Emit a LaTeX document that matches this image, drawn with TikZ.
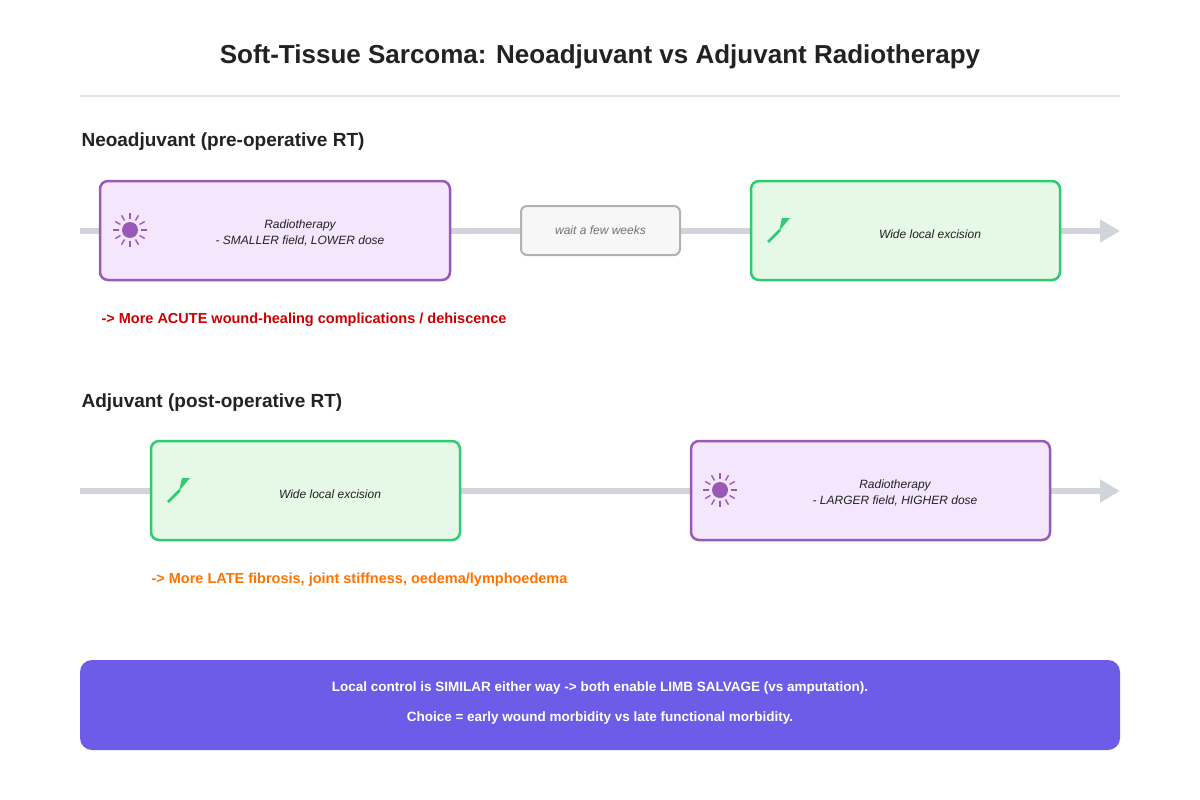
\documentclass[tikz,border=0pt]{standalone}
\usepackage{fontspec}
\setmainfont{Liberation Sans}
\usetikzlibrary{arrows.meta}
\definecolor{purp}{HTML}{9B59B6}
\definecolor{purpf}{HTML}{F3E6FD}
\definecolor{grn}{HTML}{2ECC71}
\definecolor{grnf}{HTML}{E6F8E6}
\definecolor{trk}{HTML}{D1D5DB}
\definecolor{txt}{HTML}{222222}
\definecolor{banner}{HTML}{6C5CE7}
\tikzset{
  x=1pt,y=-1pt,
  track/.style={trk,line width=6pt,-{Triangle[length=20pt,width=22pt]}},
  rt/.style={draw=purp,fill=purpf,line width=2.5pt,rounded corners=8pt},
  ex/.style={draw=grn,fill=grnf,line width=2.5pt,rounded corners=8pt},
  wait/.style={draw=gray!60,fill=gray!6,line width=2pt,rounded corners=6pt},
  lbl/.style={font=\fontsize{12}{16}\selectfont\itshape,text=txt,align=center},
  head/.style={font=\fontsize{19}{22}\selectfont\bfseries,text=txt,anchor=west},
}
\newcommand{\sunicon}[1]{%
  \fill[purp] (#1) circle (8);
  \foreach \a in {0,30,...,330}{\draw[purp,line width=1.4pt] ($(#1)+(\a:11)$) -- ($(#1)+(\a:17)$);}}
\newcommand{\scalpicon}[1]{%
  \draw[grn,line width=2.5pt] ($(#1)+(-12,12)$) -- ($(#1)+(0,0)$);
  \fill[grn] ($(#1)+(-1,1)$) -- ($(#1)+(10,-12)$) -- ($(#1)+(2,-12)$) -- cycle;}
\usetikzlibrary{calc}
\begin{document}
\begin{tikzpicture}
\useasboundingbox (0,0) rectangle (1200,800);
\fill[white] (0,0) rectangle (1200,800);
\node[font=\fontsize{26}{30}\selectfont\bfseries,text=txt] (title) at (600,57) {Soft-Tissue Sarcoma: Neoadjuvant vs Adjuvant Radiotherapy};
\draw[gray!20,line width=1.5pt] (80,96) -- (1120,96);
\node[head] (h1) at (78,142) {Neoadjuvant (pre-operative RT)};
\coordinate (s1) at (80,231); \coordinate (e1) at (1120,231);
\draw[track] (s1) -- (e1);
\node[rt,minimum width=350pt,minimum height=99pt] (rt1) at (275,230.5) {};
\node[lbl] at (300,233) {Radiotherapy\\- SMALLER field, LOWER dose};
\sunicon{130,230}
\node[wait,minimum width=159pt,minimum height=49pt,font=\fontsize{12}{14}\selectfont\itshape,text=gray!90!black] (w) at (600.5,230.5) {wait a few weeks};
\node[ex,minimum width=309pt,minimum height=99pt] (ex1) at (905.5,230.5) {};
\node[lbl] at (930,234) {Wide local excision};
\scalpicon{780,230}
\node[font=\fontsize{14.5}{18}\selectfont\bfseries,text=red!80!black,anchor=west] (n1) at (98,320) {-> More ACUTE wound-healing complications / dehiscence};
\node[head] (h2) at (78,403) {Adjuvant (post-operative RT)};
\coordinate (s2) at (80,491); \coordinate (e2) at (1120,491);
\draw[track] (s2) -- (e2);
\node[ex,minimum width=309pt,minimum height=99pt] (ex2) at (305.5,490.5) {};
\node[lbl] at (330,494) {Wide local excision};
\scalpicon{180,490}
\node[rt,minimum width=359pt,minimum height=99pt] (rt2) at (870.5,490.5) {};
\node[lbl] at (895,493) {Radiotherapy\\- LARGER field, HIGHER dose};
\sunicon{720,490}
\node[font=\fontsize{14.5}{18}\selectfont\bfseries,text=orange!90!red,anchor=west] (n2) at (148,580) {-> More LATE fibrosis, joint stiffness, oedema/lymphoedema};
\node[fill=banner,rounded corners=12pt,minimum width=1040pt,minimum height=90pt] (b) at (600,705) {};
\node[text=white,font=\fontsize{13.5}{16}\selectfont\bfseries] at (600,688) {Local control is SIMILAR either way -> both enable LIMB SALVAGE (vs amputation).};
\node[text=white,font=\fontsize{13.5}{16}\selectfont\bfseries] at (600,718) {Choice = early wound morbidity vs late functional morbidity.};
\end{tikzpicture}
\end{document}
